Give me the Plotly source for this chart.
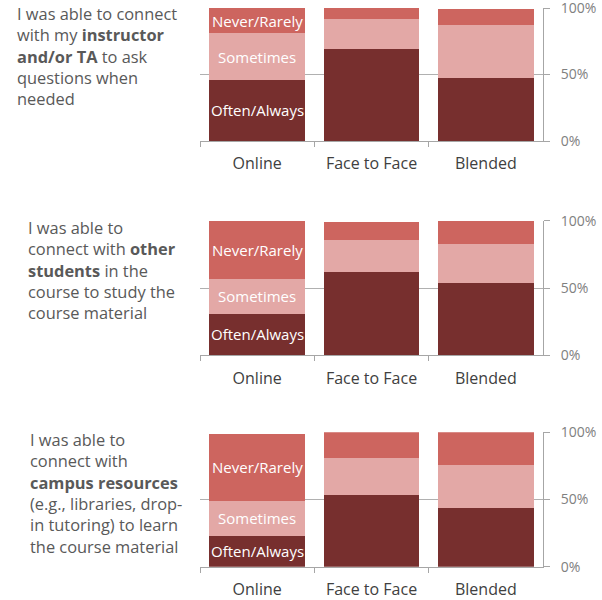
import plotly.graph_objects as go

categories = ["Online", "Face to Face", "Blended"]
series_names = ["Often/Always", "Sometimes", "Never/Rarely"]

often_1 = [46, 69, 47]
sometimes_1 = [35, 23, 40]
never_1 = [19, 8, 12]

often_2 = [31, 62, 54]
sometimes_2 = [26, 24, 29]
never_2 = [43, 13, 17]

often_3 = [23, 53, 44]
sometimes_3 = [26, 28, 32]
never_3 = [50, 19, 24]

questions = [
    "I was able to connect<br>with my <b>instructor</b><br><b>and/or TA</b> to ask<br>questions when<br>needed",
    "I was able to<br>connect with <b>other</b><br><b>students</b> in the<br>course to study the<br>course material",
    "I was able to<br>connect with<br><b>campus resources</b><br>(e.g., libraries, drop-<br>in tutoring) to learn<br>the course material",
]

tick_vals = [0, 50, 100]
tick_text = ["0%", "50%", "100%"]

colors = ["#772f2e", "#e3a8a6", "#cd655f"]

panels = [
    (often_1, sometimes_1, never_1),
    (often_2, sometimes_2, never_2),
    (often_3, sometimes_3, never_3),
]

W, H = 602, 600
# pixel positions of each panel's plot area (top, bottom)
panel_px = [(8, 141), (220.7, 355.3), (432.3, 566.7)]
text_px = [(15, 56), (26, 270), (28, 492.5)]
x_px = (200, 543)

fig = go.Figure()
annotations = []

for i, (data, (top, bot)) in enumerate(zip(panels, panel_px)):
    n = i + 1
    xa = "x" if n == 1 else f"x{n}"
    ya = "y" if n == 1 else f"y{n}"
    for vals, name, col in zip(data, series_names, colors):
        fig.add_trace(go.Bar(
            x=categories, y=vals, name=name, marker_color=col,
            marker_line_width=0, xaxis=xa, yaxis=ya, showlegend=False,
            hoverinfo="skip", cliponaxis=False,
        ))
    # segment labels on the Online bar
    cum = 0
    for vals, name in zip(data, series_names):
        v = vals[0]
        annotations.append(dict(
            x=categories[0], y=cum + v / 2, xref=xa, yref=ya,
            text=name, showarrow=False,
            font=dict(family="Open Sans", size=15, color="white"),
        ))
        cum += v
    tx, ty = text_px[i]
    annotations.append(dict(
        x=tx / W, y=1 - ty / H, xref="paper", yref="paper",
        xanchor="left", yanchor="middle", align="left",
        text=questions[i], showarrow=False,
        font=dict(family="Open Sans", size=16.4, color="#595959"),
    ))

    xkey = "xaxis" if n == 1 else f"xaxis{n}"
    ykey = "yaxis" if n == 1 else f"yaxis{n}"
    fig.update_layout(**{
        xkey: dict(
            domain=[x_px[0] / W, x_px[1] / W], anchor=ya,
            showline=True, linecolor="#a6a6a6", linewidth=1,
            ticks="outside", tickson="boundaries", ticklen=5,
            tickcolor="#a6a6a6", showgrid=False, automargin=False,
            tickfont=dict(family="Open Sans", size=16, color="#404040"),
            ticklabelstandoff=8,
        ),
        ykey: dict(
            domain=[1 - bot / H, 1 - top / H], anchor=xa, side="right",
            range=[0, 100], tickvals=tick_vals, ticktext=tick_text,
            showline=True, linecolor="#a6a6a6", linewidth=1,
            ticks="outside", ticklen=6, tickcolor="#a6a6a6",
            showgrid=True, gridcolor="#b0b0b0", gridwidth=1,
            zeroline=False, automargin=False,
            tickfont=dict(family="Open Sans", size=14, color="#808080"),
            ticklabelstandoff=8, ticklabeloverflow="allow",
        ),
    })

fig.update_layout(
    width=W, height=H, barmode="stack", bargap=0.165,
    margin=dict(l=0, r=0, t=0, b=0),
    paper_bgcolor="white", plot_bgcolor="white",
    annotations=annotations,
)

fig.write_html(
    "out.html",
    config={"displayModeBar": False},
    post_script="document.body.style.margin='0';",
)
